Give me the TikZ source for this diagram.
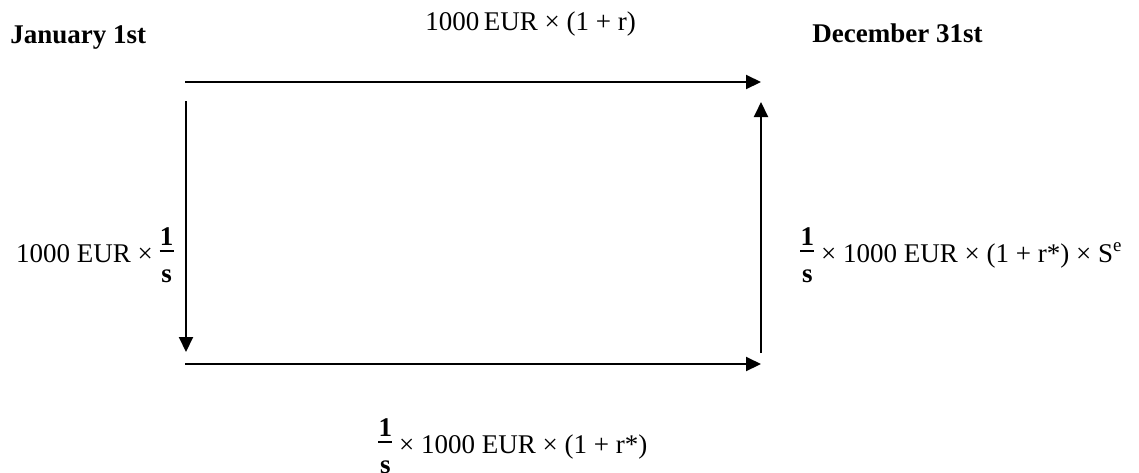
\documentclass[tikz,border=0pt]{standalone}
\usepackage{fontspec}
\setmainfont{Liberation Serif}
\usetikzlibrary{arrows.meta}
\newcommand{\fracs}{\mbox{\makebox[7pt]{\raisebox{8.5pt}{\textbf{1}}}\hspace{-7pt}\makebox[7pt]{\rule[5.2pt]{7pt}{0.8pt}}\hspace{-7pt}\makebox[7pt]{\raisebox{-10pt}{\textbf{s}}}}}
\tikzset{
  lbl/.style={inner sep=0pt, font=\fontsize{13.5}{16}\selectfont},
  hdr/.style={inner sep=0pt, font=\fontsize{13.5}{16}\selectfont\bfseries},
  flow/.style={line width=1pt, -{Triangle[length=7.5pt,width=7pt]}}
}
\begin{document}
\begin{tikzpicture}[x=0.5pt,y=-0.5pt]
\useasboundingbox (0,0) rectangle (1139,472);
% corners
\coordinate (tl) at (185,82);
\coordinate (tr) at (761,82);
\coordinate (ls) at (186,101);
\coordinate (le) at (186,352);
\coordinate (bl) at (185,364);
\coordinate (br) at (761,364);
\coordinate (rs) at (761,353);
\coordinate (re) at (761,102);
% arrows
\draw[flow] (tl) -- (tr);
\draw[flow] (ls) -- (le);
\draw[flow] (bl) -- (br);
\draw[flow] (rs) -- (re);
% labels
\node[hdr, anchor=base west] (jan) at (10,43) {January 1st};
\node[hdr, anchor=base west] (dec) at (812,42) {December 31st};
\node[lbl, anchor=base west] (top) at (425,30) {1000\,EUR × (1 + r)};
\node[lbl, anchor=base east] (left) at (174,262) {1000 EUR × \fracs};
\node[lbl, anchor=base west] (right) at (800,262) {\fracs{} × 1000 EUR × (1 + r*) × S\textsuperscript{e}};
\node[lbl, anchor=base west] (bottom) at (378,453) {\fracs{} × 1000 EUR × (1 + r*)};
\end{tikzpicture}
\end{document}
